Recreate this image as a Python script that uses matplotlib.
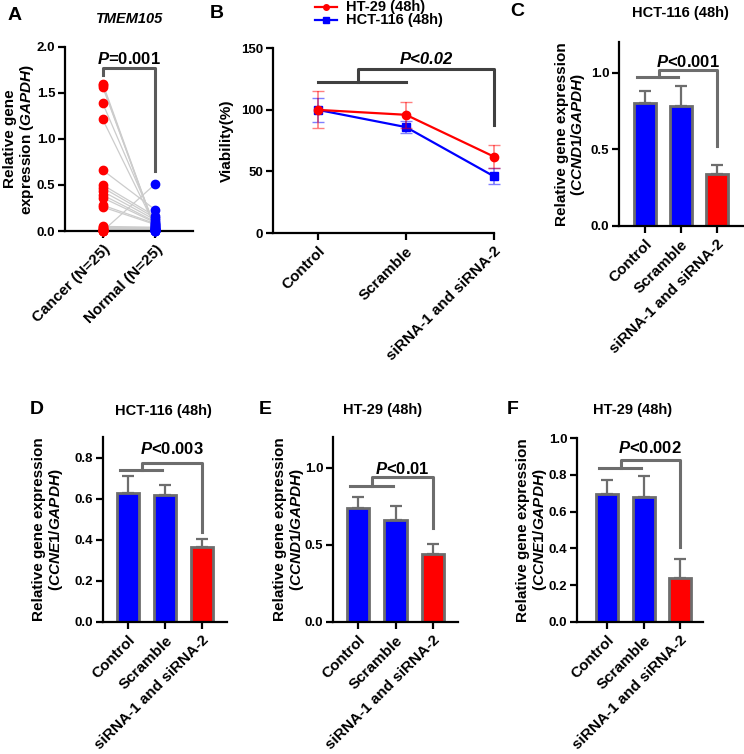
import numpy as np
import matplotlib
matplotlib.use("Agg")
import matplotlib.pyplot as plt

plt.rcParams['font.family'] = ['Liberation Sans', 'DejaVu Sans']
plt.rcParams['font.weight'] = 'bold'
plt.rcParams['mathtext.fontset'] = 'custom'
plt.rcParams['mathtext.it'] = 'Liberation Sans:bold:italic'
plt.rcParams['mathtext.rm'] = 'Liberation Sans:bold'
plt.rcParams['mathtext.bf'] = 'Liberation Sans:bold'

# ---- data ----
# panel A: paired TMEM105 expression
cancer = [1.60, 1.58, 1.56, 1.385, 1.21, 0.66, 0.50, 0.47, 0.43, 0.39, 0.36, 0.28, 0.26,
          0.05, 0.04, 0.03, 0.02, 0.02, 0.01, 0.01, 0.01, 0.0, 0.0, 0.0, 0.0]
normal = [0.02, 0.01, 0.03, 0.06, 0.05, 0.23, 0.16, 0.14, 0.12, 0.10, 0.09, 0.08, 0.07,
          0.04, 0.04, 0.03, 0.02, 0.02, 0.01, 0.0, 0.0, 0.0, 0.01, 0.51, 0.0]
groups_a = ["Cancer (N=25)", "Normal (N=25)"]

# panel B: viability
groups = ["Control", "Scramble", "siRNA-1 and siRNA-2"]
ht29_via = [100, 96, 62]
ht29_err = [15, 10.5, 9.5]
hct116_via = [100, 86, 46]
hct116_err = [9.5, 5, 6.5]

# panels C-F: relative expression
c_vals = [0.80, 0.78, 0.34]
c_err = [0.08, 0.13, 0.06]
d_vals = [0.63, 0.62, 0.365]
d_err = [0.08, 0.045, 0.04]
e_vals = [0.74, 0.66, 0.44]
e_err = [0.07, 0.09, 0.065]
f_vals = [0.695, 0.68, 0.24]
f_err = [0.075, 0.115, 0.105]

W, H = 744, 754
fig = plt.figure(figsize=(W / 100, H / 100), dpi=100)


def add_ax(l, r, t, b):
    return fig.add_axes([l / W, 1 - b / H, (r - l) / W, (b - t) / H])


def style(ax):
    for s in ['top', 'right']:
        ax.spines[s].set_visible(False)
    for s in ['left', 'bottom']:
        ax.spines[s].set_linewidth(1.6)
    ax.tick_params(width=1.6, length=5)
    ax.tick_params(axis='y', labelsize=9.5, pad=2)
    ax.tick_params(axis='x', labelsize=11, pad=3)


def px_text(x, y, s, **kw):
    fig.text(x / W, 1 - y / H, s, **kw)


def ylab2(x1, x2, yc, l1, l2):
    px_text(x1, yc, l1, ha='center', va='center', rotation=90, fontsize=11)
    px_text(x2, yc, l2, ha='center', va='center', rotation=90, fontsize=11)


GRAY = '#6d6d6d'

# ---- A ----
ax = add_ax(65, 193, 46.7, 231)
style(ax)
for c, n in zip(cancer, normal):
    ax.plot([0, 1], [c, n], color='#cccccc', lw=0.9, zorder=1)
ax.plot(np.zeros(len(cancer)), cancer, 'o', color='red', ms=6, clip_on=False, zorder=3)
ax.plot(np.ones(len(normal)), normal, 'o', color='blue', ms=6, clip_on=False, zorder=3)
ax.set_xlim(-0.72, 1.72)
ax.set_ylim(0, 2.0)
ax.set_yticks([0, 0.5, 1.0, 1.5, 2.0])
ax.set_yticklabels(['0.0', '0.5', '1.0', '1.5', '2.0'])
ax.set_xticks([0, 1])
ax.set_xticklabels(groups_a, rotation=45, ha='right', rotation_mode='anchor')
ax.plot([0, 0, 1, 1], [1.69, 1.77, 1.77, 0.65], color='#5a5a5a', lw=2.2, clip_on=False)
ax.text(0.5, 1.87, '$P$=0.001', ha='center', va='center', fontsize=12)
px_text(130, 19, 'TMEM105', ha='center', va='center', fontsize=10.5, style='italic')
px_text(8, 15, 'A', ha='left', va='center', fontsize=14)
ylab2(10, 27, 139, 'Relative gene', 'expression ($GAPDH$)')

# ---- B ----
ax = add_ax(273, 494, 48.3, 233)
style(ax)
x = np.arange(3)
ax.errorbar(x, ht29_via, yerr=ht29_err, color='red', ecolor=(1, 0, 0, 0.5), lw=1.6,
            elinewidth=1.2, capsize=4, marker='o', ms=6, clip_on=False, zorder=3)
ax.errorbar(x, hct116_via, yerr=hct116_err, color='blue', ecolor=(0, 0, 1, 0.5), lw=1.6,
            elinewidth=1.2, capsize=4, marker='s', ms=5.5, clip_on=False, zorder=2)
ax.set_xlim(-0.51, 2.0)
ax.set_ylim(0, 150)
ax.set_yticks([0, 50, 100, 150])
ax.set_xticks(x)
ax.set_xticklabels(groups, rotation=45, ha='right', rotation_mode='anchor')
ax.plot([0, 1], [123, 123], color='#404040', lw=2.2, clip_on=False)
ax.plot([0.45, 0.45, 2, 2], [123, 133, 133, 88], color='#404040', lw=2.2, clip_on=False)
ax.text(1.23, 141, 'P<0.02', ha='center', va='center', fontsize=12, style='italic')
px_text(227, 141, 'Viability(%)', ha='center', va='center', rotation=90, fontsize=11)
px_text(217, 13, 'B', ha='center', va='center', fontsize=14)
# legend drawn manually
for yy, col, mk, lab in [(7, 'red', 'o', 'HT-29 (48h)'), (20, 'blue', 's', 'HCT-116 (48h)')]:
    fig.lines.append(plt.Line2D([315 / W, 337 / W], [1 - yy / H, 1 - yy / H], color=col,
                                lw=1.6, transform=fig.transFigure))
    fig.lines.append(plt.Line2D([326 / W], [1 - yy / H], color=col, marker=mk, ms=4,
                                transform=fig.transFigure))
    px_text(346, yy, lab, ha='left', va='center', fontsize=10.5)


def bar_panel(box, vals, errs, ylim, yticks, yticklabels, xlim, brk, ptxt, title, title_x,
              letter, letter_xy, gene, ylab_xs):
    ax = add_ax(*box)
    style(ax)
    xx = np.arange(3)
    ax.bar(xx, vals, width=0.6, color=['blue', 'blue', 'red'], edgecolor=GRAY, lw=2, zorder=2)
    ax.errorbar(xx, vals, yerr=[np.zeros(3), errs], fmt='none', ecolor=GRAY, elinewidth=1.6,
                capsize=4, capthick=1.6, zorder=1)
    ax.set_xlim(*xlim)
    ax.set_ylim(*ylim)
    ax.set_yticks(yticks)
    ax.set_yticklabels(yticklabels)
    ax.set_xticks(xx)
    ax.set_xticklabels(groups, rotation=45, ha='right', rotation_mode='anchor')
    h, top, leg, ty = brk
    ax.plot([-0.22, 0.92], [h, h], color=GRAY, lw=2.2, clip_on=False)
    ax.plot([0.38, 0.38, 2, 2], [h, top, top, leg], color=GRAY, lw=2.2, clip_on=False)
    ax.text(1.18, ty, ptxt, ha='center', va='center', fontsize=12)
    yc = (box[2] + box[3]) / 2
    px_text(title_x, letter_xy[1] + 1, title, ha='center', va='center', fontsize=10.5)
    px_text(letter_xy[0], letter_xy[1], letter, ha='center', va='center', fontsize=14)
    ylab2(ylab_xs[0], ylab_xs[1], yc, 'Relative gene expression', '(' + gene + ')')
    return ax


bar_panel((619, 743, 42, 226), c_vals, c_err, (0, 1.2), [0, 0.5, 1.0], ['0.0', '0.5', '1.0'],
          (-0.72, 2.72), (0.97, 1.02, 0.52, 1.07), '$P$<0.001', 'HCT-116 (48h)', 680,
          'C', (517, 12), '$CCND1/GAPDH$', (562, 578))
bar_panel((103, 227, 437, 622), d_vals, d_err, (0, 0.9), [0, 0.2, 0.4, 0.6, 0.8],
          ['0.0', '0.2', '0.4', '0.6', '0.8'], (-0.69, 2.68), (0.74, 0.775, 0.44, 0.84),
          '$P$<0.003', 'HCT-116 (48h)', 163, 'D', (37, 410), '$CCNE1/GAPDH$', (39, 56))
bar_panel((333, 458, 437, 622), e_vals, e_err, (0, 1.2), [0, 0.5, 1.0], ['0.0', '0.5', '1.0'],
          (-0.67, 2.67), (0.88, 0.94, 0.61, 0.99), '$P$<0.01', 'HT-29 (48h)', 383,
          'E', (265, 409), '$CCND1/GAPDH$', (280, 297))
bar_panel((577, 703, 438, 622), f_vals, f_err, (0, 1.0), [0, 0.2, 0.4, 0.6, 0.8, 1.0],
          ['0.0', '0.2', '0.4', '0.6', '0.8', '1.0'], (-0.83, 2.63), (0.835, 0.88, 0.41, 0.945),
          '$P$<0.002', 'HT-29 (48h)', 633, 'F', (513, 409), '$CCNE1/GAPDH$', (523, 540))

fig.savefig('out.png', dpi=100)
